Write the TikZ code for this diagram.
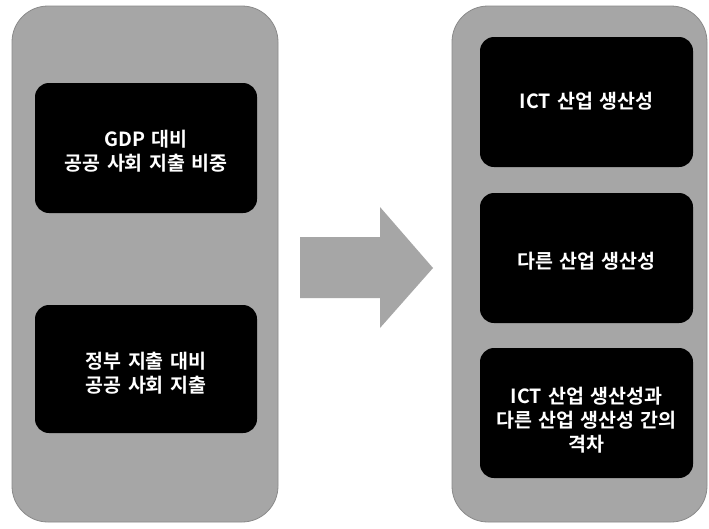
\documentclass[tikz,border=0pt]{standalone}
\usepackage{fontspec}
\newfontfamily\kr[WordSpace=1.4]{Noto Sans CJK KR Bold}
\begin{document}
\begin{tikzpicture}[x=1pt,y=-1pt,
  panel/.style={fill=panelgray,draw=bordergray,line width=0.8pt,rounded corners=36pt},
  boxbg/.style={fill=black,rounded corners=14pt},
  blackbox/.style={text=white,align=center,font=\kr\fontsize{19.5}{24}\selectfont,inner sep=0pt},
]
\definecolor{panelgray}{HTML}{A6A6A6}
\definecolor{bordergray}{HTML}{8A8A8A}
\useasboundingbox (0,0) rectangle (709,528);
\fill[white] (0,0) rectangle (709,528);
\draw[panel] (12,6) rectangle (278,522);
\draw[panel] (452,6) rectangle (707,522);
% left boxes
\fill[boxbg] (35,83) rectangle (257,213);
\node[blackbox] (l1) at (146,151) {GDP 대비\\공공 사회 지출 비중};
\fill[boxbg] (35,305) rectangle (257,433);
\node[blackbox] (l2) at (146,373) {정부 지출 대비\\공공 사회 지출};
% right boxes
\fill[boxbg] (480,37) rectangle (693,167);
\node[blackbox] (r1) at (586.5,101) {ICT 산업 생산성};
\fill[boxbg] (480,193) rectangle (693,323);
\node[blackbox] (r2) at (586.5,261) {다른 산업 생산성};
\fill[boxbg] (480,348) rectangle (693,478);
\node[blackbox] (r3) at (586.5,420) {ICT 산업 생산성과\\다른 산업 생산성 간의\\격차};
% arrow
\fill[panelgray] (300,237) -- (380,237) -- (380,207) -- (433,268) -- (380,328) -- (380,298) -- (300,298) -- cycle;
\end{tikzpicture}
\end{document}
